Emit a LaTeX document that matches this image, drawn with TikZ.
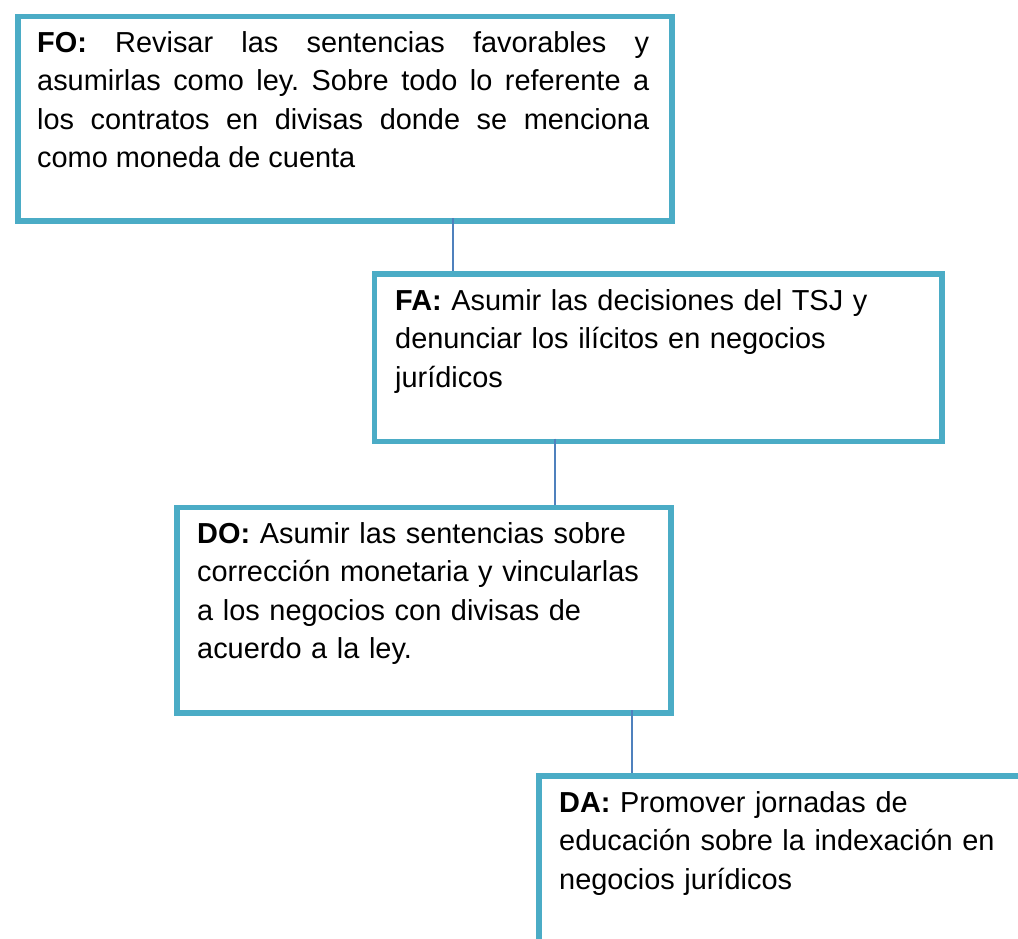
\documentclass[tikz,border=0pt]{standalone}
\usepackage{fontspec}
\setmainfont{Liberation Sans}
\definecolor{boxteal}{HTML}{4BACC6}
\definecolor{connblue}{HTML}{4F81BD}
\begin{document}
\frenchspacing
\begin{tikzpicture}[x=1pt,y=-1pt,
  box/.style={draw=boxteal, line width=5.5pt, rectangle, inner sep=0pt, anchor=north west, fill=white},
  conn/.style={draw=connblue, line width=1.8pt},
  txt/.style={anchor=north west, inner sep=0pt, font=\fontsize{28.9}{38.4}\selectfont},
]
\useasboundingbox (0,0) rectangle (1018,938);
\clip (0,0) rectangle (1018,938);
\fill[white] (0,0) rectangle (1018,938);
% boxes
\node[box, minimum width=654pt, minimum height=204.5pt] (fo) at (15,13.5) {};
\node[box, minimum width=567.5pt, minimum height=167.5pt] (fa) at (371.5,271) {};
\node[box, minimum width=494pt, minimum height=205.5pt] (do) at (174,504.5) {};
\node[box, minimum width=600pt, minimum height=300pt] (da) at (536,773) {};
% connectors
\coordinate (c1) at (453,218);
\coordinate (c2) at (555,438.5);
\coordinate (c3) at (632,710);
\draw[conn] (c1) -- (c1 |- fa.north);
\draw[conn] (c2) -- (c2 |- do.north);
\draw[conn] (c3) -- (c3 |- da.north);
% texts
\node[txt, text width=612pt, align=justify] (fot) at (37,24)
  {\rule{0pt}{28pt}\textbf{FO:} Revisar las sentencias favorables y\linebreak
   asumirlas como ley. Sobre todo lo referente a\linebreak
   los contratos en divisas donde se menciona\linebreak
   como moneda de cuenta};
\node[txt, text width=540pt, align=left] (fat) at (395,282)
  {\rule{0pt}{28pt}\textbf{FA:} Asumir las decisiones del TSJ y\\
   denunciar los ilícitos en negocios\\
   jurídicos};
\node[txt, text width=470pt, align=left] (dot) at (197,515)
  {\rule{0pt}{28pt}\textbf{DO:} Asumir las sentencias sobre\\
   corrección monetaria y vincularlas\\
   a los negocios con divisas de\\
   acuerdo a la ley.};
\node[txt, text width=450pt, align=left] (dat) at (559,784)
  {\rule{0pt}{28pt}\textbf{DA:} Promover jornadas de\\
   educación sobre la indexación en\\
   negocios jurídicos};
\end{tikzpicture}
\end{document}
